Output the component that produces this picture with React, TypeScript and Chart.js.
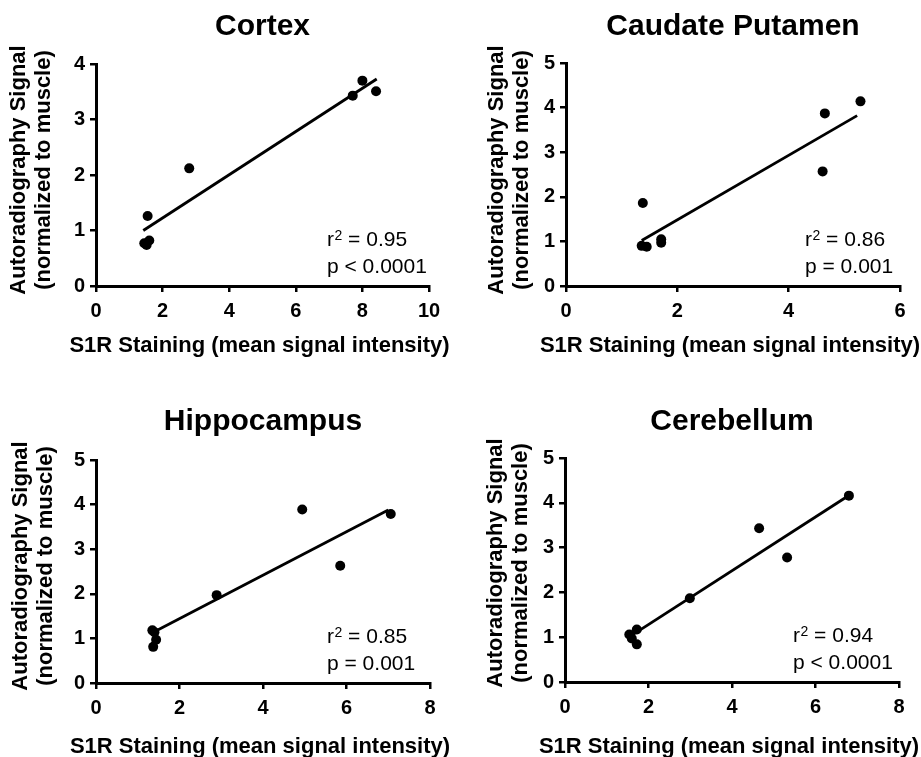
import React, { useEffect, useRef } from "react";
import { Chart, registerables } from "chart.js";

Chart.register(...registerables);

// ---------------- data ----------------
const panelTitles = ["Cortex", "Caudate Putamen", "Hippocampus", "Cerebellum"];
const yTitleLines = ["Autoradiography Signal", "(normalized to muscle)"];
const xTitleText = "S1R Staining (mean signal intensity)";

const cortexX = [1.45, 1.52, 1.6, 1.55, 2.8, 7.71, 8.0, 8.41];
const cortexY = [0.77, 0.74, 0.82, 1.26, 2.12, 3.43, 3.7, 3.51];
const cortexFitX = [1.42, 8.43];
const cortexFitY = [1.0, 3.73];

const caudateX = [1.38, 1.36, 1.45, 1.71, 1.71, 4.61, 4.65, 5.29];
const caudateY = [1.86, 0.9, 0.88, 1.05, 0.97, 2.57, 3.87, 4.14];
const caudateFitX = [1.36, 5.23];
const caudateFitY = [1.02, 3.82];

const hippoX = [1.35, 1.4, 1.44, 1.37, 2.89, 4.94, 5.85, 7.06];
const hippoY = [1.18, 1.14, 0.97, 0.81, 1.97, 3.89, 2.63, 3.79];
const hippoFitX = [1.34, 7.0];
const hippoFitY = [1.12, 3.88];

const cerebX = [1.54, 1.6, 1.72, 1.72, 2.99, 4.65, 5.32, 6.8];
const cerebY = [1.06, 0.97, 1.17, 0.84, 1.87, 3.43, 2.78, 4.16];
const cerebFitX = [1.56, 6.76];
const cerebFitY = [1.02, 4.14];

const r2Values = ["0.95", "0.86", "0.85", "0.94"];
const pTexts = ["p < 0.0001", "p = 0.001", "p = 0.001", "p < 0.0001"];

const xMaxes = [10, 6, 8, 8];
const yMaxes = [4, 5, 5, 5];

// ---------------- layout / style ----------------
const FONT = '"Liberation Sans", Arial, Helvetica, sans-serif';

type Layout = {
  left: number; top: number; w: number; h: number;
  L: number; T: number; R: number; B: number;
  titleY: number; yTitleX: number; yTitleCY: number; xTitleY: number;
  annX: number;
};

const layouts: Layout[] = [
  { left: 0, top: 0, w: 460, h: 378, L: 96, T: 64, R: 429, B: 286, titleY: 35, yTitleX: 25, yTitleCY: 170, xTitleY: 352, annX: 231 },
  { left: 460, top: 0, w: 461, h: 378, L: 106, T: 63, R: 440, B: 286, titleY: 35, yTitleX: 43, yTitleCY: 170, xTitleY: 352, annX: 239 },
  { left: 0, top: 379, w: 460, h: 378, L: 96, T: 81, R: 430, B: 304, titleY: 51, yTitleX: 27, yTitleCY: 187, xTitleY: 373.5, annX: 231 },
  { left: 460, top: 379, w: 461, h: 378, L: 105, T: 79, R: 439, B: 303, titleY: 51, yTitleX: 42, yTitleCY: 184, xTitleY: 373.5, annX: 228 },
];

const seriesX = [cortexX, caudateX, hippoX, cerebX];
const seriesY = [cortexY, caudateY, hippoY, cerebY];
const fitXs = [cortexFitX, caudateFitX, hippoFitX, cerebFitX];
const fitYs = [cortexFitY, caudateFitY, hippoFitY, cerebFitY];

const panelTextPlugin = {
  id: "panelText",
  afterDraw(chart: any, _args: any, opts: any) {
    const { ctx, chartArea } = chart;
    const cx = (chartArea.left + chartArea.right) / 2;
    ctx.save();
    ctx.fillStyle = "#000";
    ctx.textBaseline = "alphabetic";
    // title
    ctx.textAlign = "center";
    ctx.font = `bold 30px ${FONT}`;
    ctx.fillText(opts.title, cx, opts.titleY);
    // x title
    ctx.font = `bold 22px ${FONT}`;
    ctx.fillText(opts.xTitle, cx - 3, opts.xTitleY);
    // y title
    ctx.save();
    ctx.translate(opts.yTitleX, opts.yTitleCY);
    ctx.rotate(-Math.PI / 2);
    ctx.font = `bold 22px ${FONT}`;
    ctx.textAlign = "center";
    ctx.fillText(opts.yLines[0], 0, 0);
    ctx.fillText(opts.yLines[1], 0, 25);
    ctx.restore();
    // annotation
    ctx.textAlign = "left";
    const ax = chartArea.left + opts.annX;
    const y1 = chartArea.bottom - 40;
    const y2 = chartArea.bottom - 13.5;
    ctx.font = `21px ${FONT}`;
    ctx.fillText("r", ax, y1);
    const rw = ctx.measureText("r").width;
    ctx.font = `14px ${FONT}`;
    ctx.fillText("2", ax + rw + 0.5, y1 - 6);
    const sw = ctx.measureText("2").width;
    ctx.font = `21px ${FONT}`;
    ctx.fillText(" = " + opts.r2, ax + rw + sw + 0.5, y1);
    ctx.fillText(opts.p, ax, y2);
    ctx.restore();
  },
};

function Panel({ idx }: { idx: number }) {
  const ref = useRef<HTMLCanvasElement>(null);
  const lay = layouts[idx];
  useEffect(() => {
    if (!ref.current) return;
    const pts = seriesX[idx].map((x, i) => ({ x, y: seriesY[idx][i] }));
    const fit = fitXs[idx].map((x, i) => ({ x, y: fitYs[idx][i] }));
    const tickFont = { family: FONT, size: 20, weight: "bold" as const };
    const chart = new Chart(ref.current, {
      type: "scatter",
      data: {
        datasets: [
          {
            data: fit,
            showLine: true,
            borderColor: "#000",
            borderWidth: 2.8,
            pointRadius: 0,
            pointHoverRadius: 0,
            fill: false,
            order: 1,
          } as any,
          {
            data: pts,
            backgroundColor: "#000",
            borderColor: "#000",
            borderWidth: 0,
            pointRadius: 5,
            pointHoverRadius: 5,
            order: 0,
          },
        ],
      },
      options: {
        animation: false,
        responsive: false,
        events: [],
        layout: { padding: { left: 0, top: lay.T, right: lay.w - lay.R, bottom: 0 } },
        plugins: {
          legend: { display: false },
          tooltip: { enabled: false },
          title: { display: false },
          panelText: {
            title: panelTitles[idx],
            xTitle: xTitleText,
            yLines: yTitleLines,
            r2: r2Values[idx],
            p: pTexts[idx],
            titleY: lay.titleY,
            xTitleY: lay.xTitleY,
            yTitleX: lay.yTitleX,
            yTitleCY: lay.yTitleCY,
            annX: lay.annX,
          },
        } as any,
        scales: {
          x: {
            type: "linear",
            min: 0,
            max: xMaxes[idx],
            ticks: { stepSize: 2, font: tickFont, color: "#000", padding: 7, autoSkip: false, maxRotation: 0 },
            grid: { display: true, drawOnChartArea: false, drawTicks: true, tickLength: 6, color: "#000", lineWidth: 2.5 },
            border: { display: true, color: "#000", width: 3 },
            afterFit: (s: any) => { s.height = lay.h - lay.B; },
          },
          y: {
            type: "linear",
            min: 0,
            max: yMaxes[idx],
            ticks: { stepSize: 1, font: tickFont, color: "#000", padding: 5, autoSkip: false },
            grid: { display: true, drawOnChartArea: false, drawTicks: true, tickLength: 6, color: "#000", lineWidth: 2.5 },
            border: { display: true, color: "#000", width: 3 },
            afterFit: (s: any) => { s.width = lay.L; },
          },
        },
      },
      plugins: [panelTextPlugin],
    });
    return () => chart.destroy();
  }, [idx]);
  return (
    <div style={{ position: "absolute", left: lay.left, top: lay.top, width: lay.w, height: lay.h }}>
      <canvas ref={ref} width={lay.w} height={lay.h} style={{ display: "block", width: lay.w, height: lay.h }} />
    </div>
  );
}

export default function App() {
  return (
    <div style={{ position: "fixed", left: 0, top: 0, width: 921, height: 757, background: "#fff", overflow: "hidden" }}>
      {[0, 1, 2, 3].map((i) => (
        <Panel key={i} idx={i} />
      ))}
    </div>
  );
}
